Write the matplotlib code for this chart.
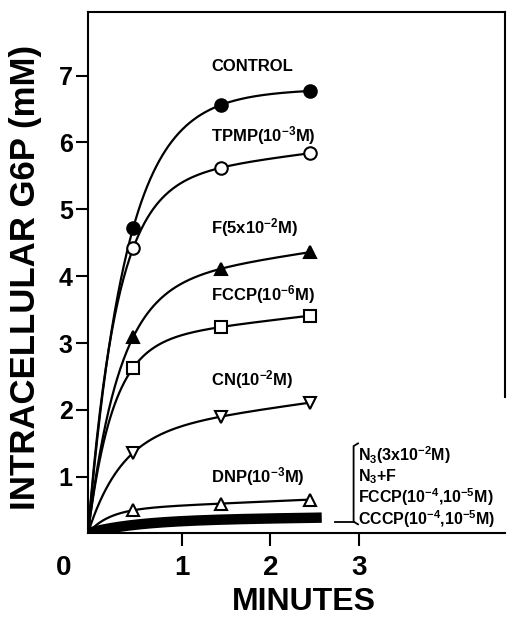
import numpy as np
import matplotlib
matplotlib.use('Agg')
import matplotlib.pyplot as plt

plt.rcParams['font.family'] = ['Liberation Sans', 'DejaVu Sans']
plt.rcParams['font.weight'] = 'bold'
plt.rcParams['mathtext.fontset'] = 'custom'
plt.rcParams['mathtext.rm'] = 'Liberation Sans:bold'
plt.rcParams['mathtext.it'] = 'Liberation Sans:bold'
plt.rcParams['mathtext.bf'] = 'Liberation Sans:bold'

# sampling times (minutes)
times = [0.45, 1.44, 2.45]

control = [4.72, 6.56, 6.77]
tpmp = [4.42, 5.62, 5.84]
fluoride = [3.09, 4.11, 4.36]
fccp_low = [2.63, 3.24, 3.41]
cyanide = [1.36, 1.90, 2.11]
dnp = [0.50, 0.60, 0.66]

# thick curve shared by N3, N3+F, FCCP and CCCP at high dose
thick_times = [0.45, 1.44, 2.58]
thick_vals = [0.28, 0.36, 0.39]

labels = ['CONTROL', 'TPMP(10$^{-3}$M)', 'F(5x10$^{-2}$M)',
          'FCCP(10$^{-6}$M)', 'CN(10$^{-2}$M)', 'DNP(10$^{-3}$M)']
label_y = [7.13, 6.11, 4.72, 3.72, 2.45, 1.0]

side_labels = ['N$_3$(3x10$^{-2}$M)', 'N$_3$+F',
               'FCCP(10$^{-4}$,10$^{-5}$M)', 'CCCP(10$^{-4}$,10$^{-5}$M)']
side_y = [1.32, 1.01, 0.69, 0.36]

X_LIM = (-0.06, 4.65)
Y_LIM = (0.16, 7.95)


def smooth_curve(t, y, t0, y0):
    # saturating curve from the origin through the measured points
    tt = np.asarray(t) - t0
    yy = np.asarray(y) - y0
    best = None
    for k in np.linspace(0.3, 12, 600):
        basis = np.column_stack([1 - np.exp(-k * tt), tt])
        coef, *_ = np.linalg.lstsq(basis, yy, rcond=None)
        if coef[1] < 0:
            coef = np.array([np.dot(basis[:, 0], yy) / np.dot(basis[:, 0], basis[:, 0]), 0.0])
        err = np.sum((basis @ coef - yy) ** 2)
        if best is None or err < best[0]:
            best = (err, k, coef)
    _, k, (a, b) = best
    ts = np.linspace(0, tt[-1], 300)
    return ts + t0, a * (1 - np.exp(-k * ts)) + b * ts + y0


fig = plt.figure(figsize=(5.09, 6.19), dpi=100)
ax = fig.add_axes([0.1729, 0.1389, 0.8192, 0.8417])
ax.set_xlim(*X_LIM)
ax.set_ylim(*Y_LIM)
t0, y0 = X_LIM[0], Y_LIM[0]

series = [
    (control, dict(marker='o', mfc='black')),
    (tpmp, dict(marker='o', mfc='white')),
    (fluoride, dict(marker='^', mfc='black')),
    (fccp_low, dict(marker='s', mfc='white')),
    (cyanide, dict(marker='v', mfc='white')),
    (dnp, dict(marker='^', mfc='white')),
]
for vals, style in series:
    xs, ys = smooth_curve(times, vals, t0, y0)
    ax.plot(xs, ys, color='black', lw=1.6, zorder=2)
    ax.plot(times, vals, ls='none', mec='black', mew=1.5, ms=9,
            zorder=3, **style)

xs, ys = smooth_curve(thick_times, thick_vals, t0, y0)
ax.plot(xs, ys, color='black', lw=7.5, solid_capstyle='butt', zorder=2)

for txt, yy in zip(labels, label_y):
    ax.text(1.33, yy, txt, fontsize=12, fontweight='bold', va='center', ha='left')

# bracket block at the right
bx = 2.94
ax.plot([bx + 0.05, bx, bx, bx + 0.05], [1.50, 1.46, 0.33, 0.29],
        color='black', lw=1.3, clip_on=False)
ax.plot([2.73, bx], [0.33, 0.33], color='black', lw=1.3, clip_on=False)
for txt, yy in zip(side_labels, side_y):
    ax.text(2.99, yy, txt, fontsize=11.5, fontweight='bold', va='center', ha='left')

ax.set_xticks([1, 2, 3])
ax.set_xticklabels(['1', '2', '3'], fontsize=20)
ax.set_yticks([1, 2, 3, 4, 5, 6, 7])
ax.set_yticklabels([str(v) for v in range(1, 8)], fontsize=18)
ax.tick_params(axis='x', length=9, width=1.5, pad=7)
ax.tick_params(axis='y', length=9, width=1.5, pad=2)
ax.text(-0.33, -0.36, '0', fontsize=20, ha='center', va='center')

for s in ax.spines.values():
    s.set_linewidth(1.5)
ax.spines['right'].set_bounds(2.2, Y_LIM[1])

ax.set_xlabel('MINUTES', fontsize=23, fontweight='bold')
ax.xaxis.set_label_coords(0.518, -0.104)
ax.set_ylabel('INTRACELLULAR G6P (mM)', fontsize=25, fontweight='bold')
ax.yaxis.set_label_coords(-0.11, 0.49)

fig.savefig('out.png', dpi=100)
